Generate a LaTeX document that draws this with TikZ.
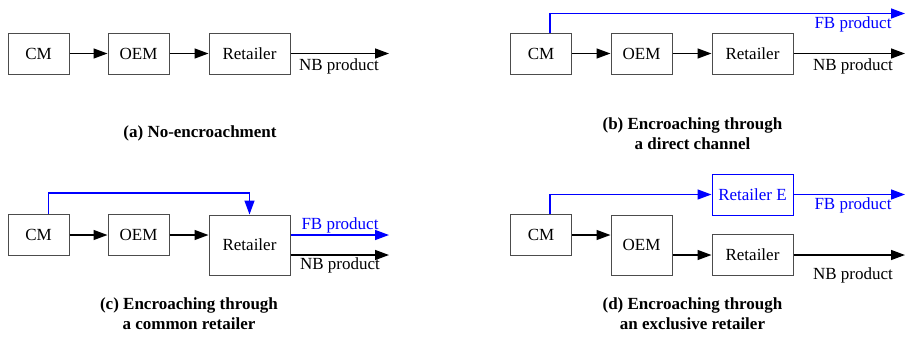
\documentclass[tikz,border=0pt]{standalone}
\usepackage{fontspec}
\setmainfont{Liberation Serif}
\usetikzlibrary{arrows.meta}
\tikzset{
  box/.style={draw=black!70, line width=1pt, minimum width=61pt, minimum height=41pt, inner sep=0pt, font=\fontsize{17}{20}\selectfont},
  wbox/.style={box, minimum width=81pt},
  arr/.style={-{Triangle[length=14pt,width=10pt]}, line width=1.4pt},
  lbl/.style={anchor=base, inner sep=0pt, font=\fontsize{17}{20}\selectfont},
  captxt/.style={anchor=base, inner sep=0pt, font=\bfseries\fontsize{17}{20}\selectfont},
  fb/.style={blue}
}
\begin{document}
\begin{tikzpicture}[x=1pt,y=-1pt]
\useasboundingbox (0,0) rectangle (906,338);
% (a)
\node[box] (CMa) at (38.5,53.5) {CM};
\node[box] (OEMa) at (138.5,53.5) {OEM};
\node[wbox] (Reta) at (249.5,53.5) {Retailer};
\coordinate (nbenda) at (389,53.5);
\draw[arr] (CMa) -- (OEMa);
\draw[arr] (OEMa) -- (Reta);
\draw[arr] (Reta.east) -- (nbenda);
\node[lbl] (nba) at (339,70) {NB product};
\node[captxt] (capa) at (200,137) {(a) No-encroachment};
% (b)
\node[box] (CMb) at (541,53.5) {CM};
\node[box] (OEMb) at (641.5,53.5) {OEM};
\node[wbox] (Retb) at (752.5,53.5) {Retailer};
\coordinate (nbendb) at (905,53.5);
\coordinate (fbendb) at (905,13.5);
\draw[arr] (CMb) -- (OEMb);
\draw[arr] (OEMb) -- (Retb);
\draw[arr] (Retb.east) -- (nbendb);
\draw[arr,fb] ([xshift=9pt]CMb.north) |- (fbendb);
\node[lbl,fb] (fbb) at (853,28.5) {FB product};
\node[lbl] (nbb) at (853,70) {NB product};
\node[captxt] (capb1) at (692.5,129) {(b) Encroaching through};
\node[captxt] (capb2) at (692.5,149) {a direct channel};
% (c)
\node[box] (CMc) at (38.5,235) {CM};
\node[box] (OEMc) at (138.5,235) {OEM};
\node[wbox, minimum height=60pt] (Retc) at (249.5,245) {Retailer};
\coordinate (fbendc) at (389,235);
\coordinate (nbendc) at (389,255);
\draw[arr] (CMc) -- (OEMc);
\draw[arr] (OEMc.east) -- (Retc.west |- OEMc.east);
\draw[arr,fb] ([xshift=10pt]CMc.north) -- ++(0,-21) -| (Retc.north);
\draw[arr,fb] (Retc.east |- fbendc) -- (fbendc);
\draw[arr] (Retc.east |- nbendc) -- (nbendc);
\node[lbl,fb] (fbc) at (340,229) {FB product};
\node[lbl] (nbc) at (340,269.5) {NB product};
\node[captxt] (capc1) at (189,309) {(c) Encroaching through};
\node[captxt] (capc2) at (189,329) {a common retailer};
% (d)
\node[box] (CMd) at (541,235) {CM};
\node[box, minimum height=60pt] (OEMd) at (641.5,245) {OEM};
\node[wbox] (Retd) at (752.5,255) {Retailer};
\node[wbox,draw=blue,text=blue] (RetEd) at (752.5,194.5) {Retailer E};
\coordinate (fbendd) at (905,194.5);
\coordinate (nbendd) at (905,255);
\draw[arr] (CMd.east) -- (OEMd.west |- CMd.east);
\draw[arr] (OEMd.east |- Retd.west) -- (Retd.west);
\draw[arr,fb] ([xshift=9pt]CMd.north) |- (RetEd.west);
\draw[arr,fb] (RetEd.east) -- (fbendd);
\draw[arr] (Retd.east) -- (nbendd);
\node[lbl,fb] (fbd) at (853,209) {FB product};
\node[lbl] (nbd) at (853,279.5) {NB product};
\node[captxt] (capd1) at (692.5,309) {(d) Encroaching through};
\node[captxt] (capd2) at (692.5,329) {an exclusive retailer};
\end{tikzpicture}
\end{document}
